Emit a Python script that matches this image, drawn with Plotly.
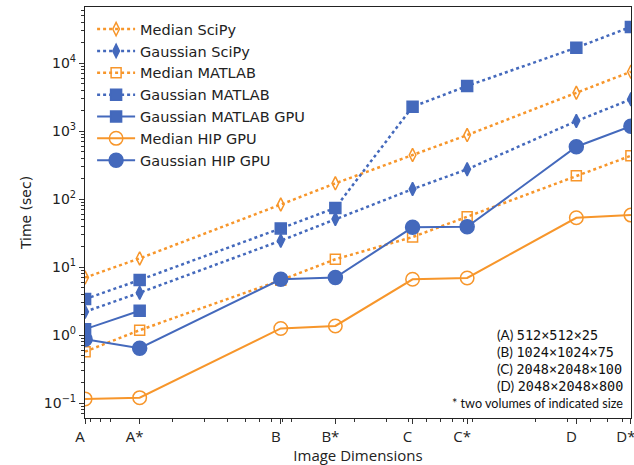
import math
import plotly.graph_objects as go

# ---------------- data ----------------
categories = ["A", "A*", "B", "B*", "C", "C*", "D", "D*"]
voxels = [6553600, 13107200, 78643200, 157286400, 419430400, 838860800, 3355443200, 6710886400]

median_scipy = [7.0, 13.4, 83, 170, 444, 871, 3650, 7450]
gaussian_scipy = [2.2, 4.19, 24.4, 50.8, 140, 274, 1400, 2925]
median_matlab = [0.57, 1.18, 6.4, 13.0, 27.6, 55, 220, 433]
gaussian_matlab = [3.38, 6.45, 37, 74, 2275, 4600, 16800, 34000]
gaussian_matlab_gpu = [1.22, 2.28]
median_hip_gpu = [0.115, 0.12, 1.25, 1.36, 6.6, 6.9, 53, 58]
gaussian_hip_gpu = [0.87, 0.64, 6.6, 7.0, 38.4, 39.0, 588, 1180]

y_tickvals = [0.1, 1, 10, 100, 1000, 10000]
y_ticktext = ["10<sup>−1</sup>", "10<sup>0</sup>", "10<sup>1</sup>",
              "10<sup>2</sup>", "10<sup>3</sup>", "10<sup>4</sup>"]

notes = ["(A) ", "(B) ", "(C) ", "(D) "]
note_sizes = ["512×512×25", "1024×1024×75", "2048×2048×100", "2048×2048×800"]
footnote = "* two volumes of indicated size"

ORANGE = "#F7962B"
BLUE = "#4469BC"

# ---------------- geometry ----------------
W, H = 634, 465
L, R, T, B = 84.5, 3, 7, 47
PW = W - L - R
PH = H - T - B


def px_x(px):
    return (px - L) / PW


def px_y(py):
    return (H - B - py) / PH


fig = go.Figure()

series = [
    ("Median SciPy", voxels, median_scipy, ORANGE, "dot", "diamond-tall-open", 9.5),
    ("Gaussian SciPy", voxels, gaussian_scipy, BLUE, "dot", "diamond-tall", 9.5),
    ("Median MATLAB", voxels, median_matlab, ORANGE, "dot", "square-open", 10),
    ("Gaussian MATLAB", voxels, gaussian_matlab, BLUE, "dot", "square", 11),
    ("Gaussian MATLAB GPU", voxels[:2], gaussian_matlab_gpu, BLUE, "solid", "square", 11),
    ("Median HIP GPU", voxels, median_hip_gpu, ORANGE, "solid", "circle-open", 13.5),
    ("Gaussian HIP GPU", voxels, gaussian_hip_gpu, BLUE, "solid", "circle", 14),
]

for name, xs, ys, color, dash, symbol, size in series:
    fig.add_trace(go.Scatter(
        x=xs, y=ys, name=name, mode="lines+markers",
        line=dict(color=color, width=2.5 if dash == "dot" else 2, dash=dash),
        marker=dict(symbol=symbol, size=size, color=color,
                    line=dict(color=color, width=1.5)),
    ))

x_minor = [k * 10 ** n for n in range(6, 10) for k in range(2, 10)]
y_minor = [k * 10 ** n for n in range(-2, 5) for k in range(2, 10)]

fig.update_xaxes(
    type="log",
    range=[math.log10(voxels[0]) - 0.0005, math.log10(voxels[-1]) + 0.0005],
    tickmode="array", tickvals=voxels, ticktext=categories,
    ticks="outside", ticklen=5, tickwidth=1, tickcolor="#333",
    ticklabelshift=-5, ticklabeloverflow="allow",
    minor=dict(tickmode="array", tickvals=x_minor, ticks="outside",
               ticklen=3, tickwidth=1, tickcolor="#333", showgrid=False),
    showline=True, linecolor="#222", linewidth=1.2, mirror=True,
    showgrid=False, zeroline=False,
    tickfont=dict(family="Open Sans", size=15, color="#222"),
    title=dict(text="Image Dimensions", standoff=2,
               font=dict(family="Open Sans", size=15, color="#222")),
    automargin=False,
)

fig.update_yaxes(
    type="log",
    range=[-1.22, 4.824],
    tickmode="array", tickvals=y_tickvals, ticktext=y_ticktext,
    ticks="outside", ticklen=5, tickwidth=1, tickcolor="#333",
    minor=dict(tickmode="array", tickvals=y_minor, ticks="outside",
               ticklen=3, tickwidth=1, tickcolor="#333", showgrid=False),
    showline=True, linecolor="#222", linewidth=1.2, mirror=True,
    showgrid=False, zeroline=False,
    tickfont=dict(family="DejaVu Sans", size=14, color="#222"),
    title=dict(text="Time (sec)", standoff=8,
               font=dict(family="DejaVu Sans", size=14, color="#222")),
    automargin=False,
)

note_y = [335, 352, 369, 386]
for lab, size_txt, yy in zip(notes, note_sizes, note_y):
    fig.add_annotation(
        xref="paper", yref="paper", x=px_x(495), y=px_y(yy),
        xanchor="left", yanchor="middle", showarrow=False,
        text=lab + '<span style="font-family:\'DejaVu Sans Mono\'">' + size_txt + "</span>",
        font=dict(family="Lato", size=13.5, color="#111"),
    )
fig.add_annotation(
    xref="paper", yref="paper", x=px_x(625), y=px_y(403),
    xanchor="right", yanchor="middle", showarrow=False,
    text=footnote, font=dict(family="Lato", size=12.6, color="#111"),
)

fig.update_layout(
    width=W, height=H,
    margin=dict(l=L, r=R, t=T, b=B, pad=0),
    paper_bgcolor="white", plot_bgcolor="white",
    showlegend=True,
    legend=dict(
        x=0.013, y=0.985, xanchor="left", yanchor="top",
        bgcolor="rgba(0,0,0,0)", borderwidth=0,
        font=dict(family="DejaVu Sans", size=14.5, color="#222"),
        tracegroupgap=0, itemwidth=38,
    ),
)

fig.write_html("out.html", config={"displayModeBar": False},
               post_script="document.body.style.margin='0';")
